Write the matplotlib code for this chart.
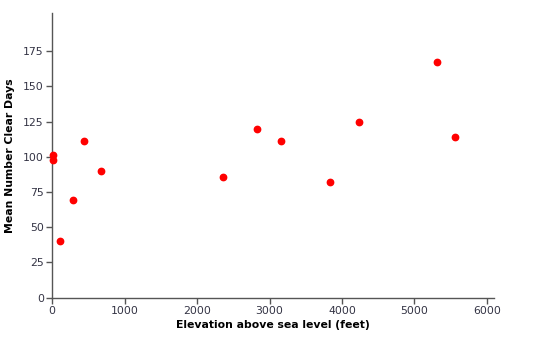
import matplotlib
matplotlib.use("Agg")
import matplotlib.pyplot as plt

# elevation (feet) vs mean number of clear days
elevation = [10, 10, 110, 280, 435, 680, 2360, 2830, 3160, 3830, 4230, 5310, 5565]
clear_days = [101, 98, 40, 69, 111, 90, 86, 120, 111, 82, 125, 167, 114]

x_ticks = [0, 1000, 2000, 3000, 4000, 5000, 6000]
y_ticks = [0, 25, 50, 75, 100, 125, 150, 175]

fig = plt.figure(figsize=(5.33, 3.56), dpi=100)
ax = fig.add_axes([0.098, 0.164, 0.829, 0.799])

ax.scatter(elevation, clear_days, s=21, color="#ff0000", zorder=3, clip_on=False)

ax.set_xlim(0, 6100)
ax.set_ylim(0, 202)
ax.set_xticks(x_ticks)
ax.set_yticks(y_ticks)

for side in ["top", "right"]:
    ax.spines[side].set_visible(False)
for side in ["left", "bottom"]:
    ax.spines[side].set_color("#555555")
    ax.spines[side].set_linewidth(1.0)

ax.tick_params(direction="out", length=4, width=1, color="#555555",
               labelsize=7.8, labelcolor="#333344", pad=2)

ax.set_xlabel("Elevation above sea level (feet)", fontsize=7.8, fontweight="bold", labelpad=3)
ax.set_ylabel("Mean Number Clear Days", fontsize=7.8, fontweight="bold", labelpad=6)

fig.savefig("out.png", dpi=100)
